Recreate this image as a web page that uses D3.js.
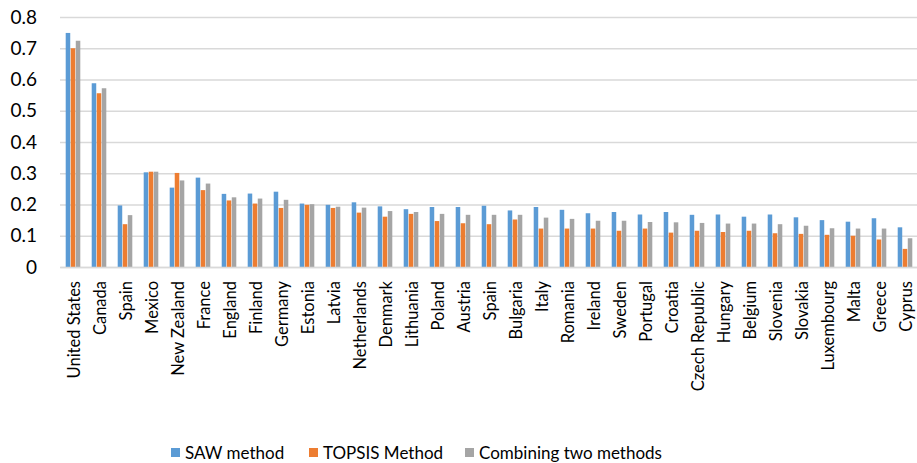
<!DOCTYPE html>
<html>
<head>
<meta charset="utf-8">
<script src="https://cdn.jsdelivr.net/npm/d3@7"></script>
<style>
    body { margin: 0; background: #fff; }
    text { font-family: Lato, "Open Sans", sans-serif; fill: #000; }
</style>
</head>
<body>
<svg id="Chart"></svg>
<script>
let countries = ["United States", "Canada", "Spain", "Mexico", "New Zealand", "France", "England",
    "Finland", "Germany", "Estonia", "Latvia", "Netherlands", "Denmark", "Lithuania", "Poland",
    "Austria", "Spain", "Bulgaria", "Italy", "Romania", "Ireland", "Sweden", "Portugal", "Croatia",
    "Czech Republic", "Hungary", "Belgium", "Slovenia", "Slovakia", "Luxembourg", "Malta", "Greece", "Cyprus"];

let sawValues = [0.749, 0.588, 0.197, 0.303, 0.254, 0.286, 0.234, 0.235, 0.241, 0.203, 0.199, 0.207,
    0.194, 0.185, 0.192, 0.192, 0.196, 0.181, 0.192, 0.183, 0.172, 0.176, 0.168, 0.176, 0.167,
    0.168, 0.161, 0.168, 0.159, 0.150, 0.145, 0.156, 0.127];

let topsisValues = [0.700, 0.556, 0.137, 0.305, 0.301, 0.246, 0.213, 0.203, 0.189, 0.199, 0.189, 0.174,
    0.161, 0.170, 0.147, 0.140, 0.137, 0.152, 0.123, 0.123, 0.123, 0.116, 0.123, 0.110, 0.116,
    0.112, 0.116, 0.108, 0.106, 0.103, 0.100, 0.088, 0.058];

let combinedValues = [0.724, 0.572, 0.166, 0.305, 0.277, 0.267, 0.223, 0.219, 0.215, 0.201, 0.193, 0.190,
    0.179, 0.176, 0.170, 0.167, 0.167, 0.167, 0.158, 0.154, 0.148, 0.148, 0.144, 0.143, 0.141,
    0.139, 0.139, 0.137, 0.132, 0.124, 0.123, 0.123, 0.092];

let seriesNames = ["SAW method", "TOPSIS Method", "Combining two methods"];
let seriesColors = ["#5B9BD5", "#ED7D31", "#A5A5A5"];
let yTicks = [0, 0.1, 0.2, 0.3, 0.4, 0.5, 0.6, 0.7, 0.8];

function getConfig() {
    let width = 917;
    let height = 463;
    let margin = { top: 17, left: 60, right: -1, bottom: 196 };
    let bodyWidth = width - margin.left - margin.right;
    let bodyHeight = height - margin.top - margin.bottom;
    let container = d3.select("#Chart")
        .attr("width", width)
        .attr("height", height);
    return { width, height, margin, bodyWidth, bodyHeight, container };
}

function getScales(config) {
    let { bodyWidth, bodyHeight } = config;
    let xScale = d3.scaleBand()
        .range([0, bodyWidth])
        .domain(d3.range(countries.length))
        .paddingInner(0.4)
        .paddingOuter(0.2);
    let seriesScale = d3.scaleBand()
        .range([0, xScale.bandwidth()])
        .domain(d3.range(seriesNames.length))
        .padding(0.1);
    let yScale = d3.scaleLinear()
        .range([bodyHeight, 0])
        .domain([0, 0.8]);
    return { xScale, seriesScale, yScale };
}

function drawGrid(scales, config) {
    let { yScale } = scales;
    let { container, margin, bodyWidth } = config;
    let axisY = d3.axisLeft(yScale)
        .tickValues(yTicks)
        .tickFormat(d => d === 0 ? "0" : d3.format(".1f")(d))
        .tickSize(-bodyWidth)
        .tickPadding(23);
    let g = container.append("g")
        .attr("transform", `translate(${margin.left},${margin.top})`)
        .call(axisY);
    g.select(".domain").remove();
    g.selectAll(".tick line").attr("stroke", "#D9D9D9").attr("stroke-width", 1.5);
    g.selectAll(".tick text").attr("font-size", 19).attr("font-family", "Lato");
}

function drawBars(scales, config) {
    let { xScale, seriesScale, yScale } = scales;
    let { container, margin } = config;
    let series = [sawValues, topsisValues, combinedValues];
    let body = container.append("g")
        .attr("transform", `translate(${margin.left},${margin.top})`);

    series.forEach((values, s) => {
        body.selectAll(".bar" + s)
            .data(values)
            .enter().append("rect")
            .attr("x", (d, i) => xScale(i) + seriesScale(s))
            .attr("width", seriesScale.bandwidth())
            .attr("y", d => yScale(d))
            .attr("height", d => yScale(0) - yScale(d))
            .attr("fill", seriesColors[s]);
    });
}

function drawXLabels(scales, config) {
    let { xScale } = scales;
    let { container, margin, bodyHeight } = config;
    let axisX = d3.axisBottom(xScale)
        .tickFormat(i => countries[i])
        .tickSize(0);
    let g = container.append("g")
        .attr("transform", `translate(${margin.left},${margin.top + bodyHeight})`)
        .call(axisX);
    g.select(".domain").attr("stroke", "#D9D9D9").attr("stroke-width", 1.5);
    g.selectAll(".tick text")
        .attr("font-size", 16.5)
        .attr("font-family", "'Open Sans'")
        .attr("text-anchor", "end")
        .attr("transform", "rotate(-90)")
        .attr("x", -14)
        .attr("y", 1)
        .attr("dy", "0.35em");
}

function drawLegend(config) {
    let { container } = config;
    let legendX = [171, 309, 465];
    let items = container.append("g").selectAll("g")
        .data(seriesNames)
        .enter().append("g")
        .attr("transform", (d, i) => `translate(${legendX[i]},448)`);
    items.append("rect")
        .attr("width", 9).attr("height", 9)
        .attr("fill", (d, i) => seriesColors[i]);
    items.append("text")
        .attr("x", 14)
        .attr("y", 5)
        .attr("dy", "0.35em")
        .attr("font-size", 17)
        .text(d => d);
}

function drawChart() {
    let config = getConfig();
    let scales = getScales(config);
    drawGrid(scales, config);
    drawBars(scales, config);
    drawXLabels(scales, config);
    drawLegend(config);
}

drawChart();
</script>
</body>
</html>
